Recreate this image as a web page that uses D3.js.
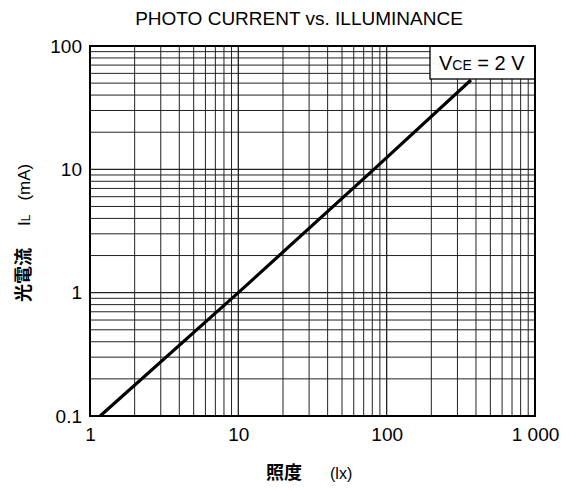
<!DOCTYPE html>
<html><head><meta charset="utf-8">
<script src="https://cdn.jsdelivr.net/npm/d3@7"></script>
<style>body{margin:0;background:#fff}svg{display:block}text{font-family:"Liberation Sans",Arial,sans-serif;fill:#000}</style>
</head><body><svg id="c" width="572" height="490"></svg>
<script>
const illuminance = [1.17, 10, 82, 370];
const photoCurrent = [0.1, 1.0, 10, 53];
const xTickValues = [1, 10, 100, 1000];
const xTickLabels = ["1", "10", "100", "1 000"];
const yTickValues = [0.1, 1, 10, 100];
const yTickLabels = ["0.1", "1", "10", "100"];

const svg = d3.select("#c");
const L = 90, R = 535, T = 46, B = 416;
const x = d3.scaleLog().domain([1, 1000]).range([L, R]);
const y = d3.scaleLog().domain([0.1, 100]).range([B, T]);

// grid
const gridX = [], gridY = [];
for (let d = 1; d < 1000; d *= 10) for (let k = 1; k < 10; k++) gridX.push(d * k);
for (let d = 0.1; d < 99; d *= 10) for (let k = 1; k < 10; k++) gridY.push(+(d * k).toPrecision(3));
svg.append("g").selectAll("line").data(gridX).join("line")
  .attr("x1", d => x(d)).attr("x2", d => x(d)).attr("y1", T).attr("y2", B)
  .attr("stroke", "#222").attr("stroke-width", d => [1,10,100].includes(d) ? 1.3 : 1);
svg.append("g").selectAll("line").data(gridY).join("line")
  .attr("y1", d => y(d)).attr("y2", d => y(d)).attr("x1", L).attr("x2", R)
  .attr("stroke", "#222").attr("stroke-width", d => [0.1,1,10].includes(d) ? 1.3 : 1);

// data line
const line = d3.line().x((d, i) => x(illuminance[i])).y(d => y(d));
svg.append("path").attr("d", line(photoCurrent)).attr("fill", "none")
  .attr("stroke", "#000").attr("stroke-width", 3.2);

// legend box
svg.append("rect").attr("x", 430).attr("y", T).attr("width", R - 430).attr("height", 33)
  .attr("fill", "#fff").attr("stroke", "#000").attr("stroke-width", 1.3);
const lt = svg.append("text").attr("x", 439).attr("y", 70).attr("font-size", 20);
lt.append("tspan").text("V");
lt.append("tspan").attr("font-size", 14).text("CE");
lt.append("tspan").text(" = 2 V");

// border
svg.append("rect").attr("x", L).attr("y", T).attr("width", R - L).attr("height", B - T)
  .attr("fill", "none").attr("stroke", "#000").attr("stroke-width", 2);

// axes labels via d3 axes
const xa = svg.append("g").attr("transform", `translate(0,${B})`)
  .call(d3.axisBottom(x).tickValues(xTickValues).tickSize(0).tickPadding(12)
    .tickFormat((d, i) => xTickLabels[i]));
xa.select(".domain").remove();
xa.selectAll("text").attr("font-size", 19).attr("font-family", "Liberation Sans, Arial, sans-serif");
const ya = svg.append("g").attr("transform", `translate(${L},0)`)
  .call(d3.axisLeft(y).tickValues(yTickValues).tickSize(0).tickPadding(8)
    .tickFormat((d, i) => yTickLabels[i]));
ya.select(".domain").remove();
ya.selectAll("text").attr("font-size", 19).attr("font-family", "Liberation Sans, Arial, sans-serif");

// title
svg.append("text").attr("x", 299).attr("y", 25).attr("text-anchor", "middle")
  .attr("font-size", 19).text("PHOTO CURRENT vs. ILLUMINANCE");

// x label
const xl = svg.append("text").attr("x", 266).attr("y", 479).attr("font-size", 16);
xl.append("tspan").attr("font-family", "Noto Sans CJK JP").attr("font-weight", "bold").attr("font-size", 18).text("照度");
xl.append("tspan").attr("dx", 28).attr("font-size", 16).text("(lx)");

// y label
const yl = svg.append("text").attr("transform", "translate(30,302) rotate(-90)").attr("font-size", 17);
yl.append("tspan").attr("font-family", "Noto Sans CJK JP").attr("font-weight", "bold").attr("font-size", 18).text("光電流");
yl.append("tspan").attr("dx", 22).text("I");
yl.append("tspan").attr("font-size", 12).text("L");
yl.append("tspan").attr("dx", 14).text("(mA)");
</script></body></html>
